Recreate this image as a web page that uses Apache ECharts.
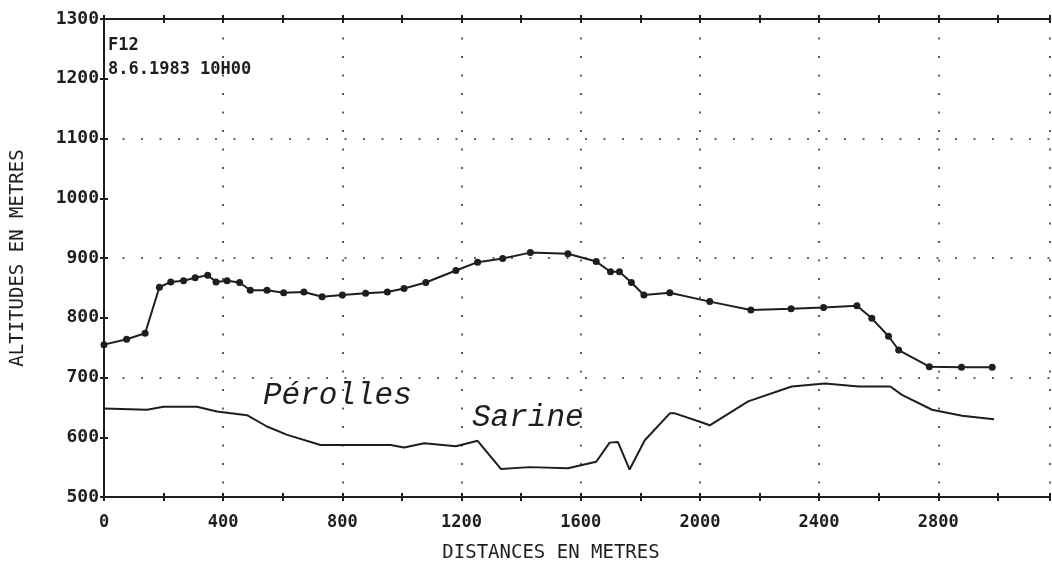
<!DOCTYPE html>
<html>
<head>
<meta charset="utf-8">
<script src="https://cdn.jsdelivr.net/npm/echarts@6/dist/echarts.min.js"></script>
<style>
    html, body { margin: 0; padding: 0; background: #ffffff; }
    #chart { width: 1052px; height: 569px; }
</style>
</head>
<body>
<div id="chart"></div>
<script>
// Profil Pérolles (points mesurés)
const perollesDist = [0, 76, 138, 186, 224, 267, 306, 348, 376, 413, 455, 491, 547, 603, 671, 732, 800,
    878, 951, 1007, 1080, 1181, 1254, 1338, 1431, 1557, 1652, 1700, 1730, 1770, 1812, 1899, 2033,
    2171, 2306, 2415, 2527, 2577, 2633, 2667, 2770, 2878, 2981];
const perollesAlt = [755, 764, 774, 851, 860, 862, 867, 871, 860, 862, 859, 846, 846, 842, 843, 835, 838,
    841, 843, 849, 859, 879, 893, 899, 909, 907, 894, 877, 877, 859, 838, 842, 827,
    813, 815, 817, 820, 799, 769, 746, 718, 717, 717];

// Profil de la Sarine
const sarineDist = [0, 144, 200, 312, 379, 480, 547, 615, 727, 861, 962, 1007, 1075, 1181, 1254, 1332,
    1428, 1557, 1652, 1697, 1725, 1764, 1815, 1899, 1916, 2000, 2033, 2162, 2308, 2420, 2533,
    2639, 2678, 2779, 2880, 2987];
const sarineAlt = [648, 646, 651, 651, 643, 637, 618, 604, 587, 587, 587, 583, 590, 585, 594, 547,
    550, 548, 559, 591, 592, 546, 595, 640, 640, 626, 620, 660, 685, 690, 685,
    685, 671, 646, 636, 630];

const X_MAX = 3175;
const plotterFont = 'DejaVu Sans Mono';
const ink = '#1e1e1e';

const chart = echarts.init(document.getElementById('chart'));

function zip(xs, ys) {
    return xs.map((x, i) => [x, ys[i]]);
}

// pas de séparateur de milliers, comme sur le traceur
function plain(value) {
    return String(value);
}

const dotted = { type: [2, 16.5], color: '#333', width: 1.6 };

const option = {
    animation: false,
    backgroundColor: '#ffffff',
    grid: { left: 104, right: 2, top: 19, bottom: 72 },
    xAxis: [
        {
            type: 'value', position: 'bottom', min: 0, max: X_MAX, interval: 400,
            axisLine: { show: true, lineStyle: { color: ink, width: 2 } },
            axisTick: { show: false },
            axisLabel: {
                margin: 17, color: ink, fontFamily: plotterFont, fontSize: 17, fontWeight: 'bold',
                showMaxLabel: false, formatter: plain
            },
            splitLine: { show: true, lineStyle: dotted },
            name: 'DISTANCES EN METRES',
            nameLocation: 'middle',
            nameGap: 47,
            nameTextStyle: { color: ink, fontFamily: plotterFont, fontSize: 19, padding: [0, 52, 0, 0] }
        },
        {
            type: 'value', position: 'bottom', min: 0, max: X_MAX, interval: 200, offset: -4,
            axisLine: { show: false },
            axisTick: { show: true, length: 8, lineStyle: { color: ink, width: 2 } },
            axisLabel: { show: false },
            splitLine: { show: false }
        },
        {
            type: 'value', position: 'top', min: 0, max: X_MAX, interval: 200,
            axisLine: { show: true, lineStyle: { color: ink, width: 2 } },
            axisTick: { show: false },
            axisLabel: { show: false },
            splitLine: { show: false }
        },
        {
            type: 'value', position: 'top', min: 0, max: X_MAX, interval: 200, offset: -4,
            axisLine: { show: false },
            axisTick: { show: true, length: 8, lineStyle: { color: ink, width: 2 } },
            axisLabel: { show: false },
            splitLine: { show: false }
        }
    ],
    yAxis: [
        {
            type: 'value', position: 'left', min: 500, max: 1300, interval: 100,
            axisLine: { show: true, lineStyle: { color: ink, width: 2 } },
            axisTick: { show: false },
            axisLabel: {
                margin: 5, color: ink, fontFamily: plotterFont, fontSize: 18, fontWeight: 'bold',
                formatter: plain
            },
            splitLine: { show: false },
            name: 'ALTITUDES EN METRES',
            nameLocation: 'middle',
            nameGap: 76,
            nameRotate: 90,
            nameTextStyle: { color: ink, fontFamily: plotterFont, fontSize: 19 }
        },
        {
            type: 'value', position: 'left', min: 500, max: 1300, interval: 200,
            axisLine: { show: false },
            axisTick: { show: false },
            axisLabel: { show: false },
            splitLine: { show: true, lineStyle: dotted }
        },
        {
            type: 'value', position: 'left', min: 500, max: 1300, interval: 100, offset: -4,
            axisLine: { show: false },
            axisTick: { show: true, length: 8, lineStyle: { color: ink, width: 2 } },
            axisLabel: { show: false },
            splitLine: { show: false }
        }
    ],
    series: [
        {
            name: 'Pérolles',
            type: 'line',
            data: zip(perollesDist, perollesAlt),
            symbol: 'circle',
            symbolSize: 7,
            itemStyle: { color: ink },
            lineStyle: { color: ink, width: 2 },
            z: 5
        },
        {
            name: 'Sarine',
            type: 'line',
            data: zip(sarineDist, sarineAlt),
            showSymbol: false,
            lineStyle: { color: ink, width: 2 },
            z: 5
        }
    ],
    graphic: [
        {
            type: 'text', left: 108, top: 37,
            style: { text: 'F12', fill: ink, font: 'bold 17px "DejaVu Sans Mono"' }
        },
        {
            type: 'text', left: 108, top: 61,
            style: { text: '8.6.1983 10H00', fill: ink, font: 'bold 17px "DejaVu Sans Mono"' }
        },
        {
            type: 'text', left: 263, top: 380,
            style: { text: 'Pérolles', fill: ink, font: 'italic 31px "Liberation Mono"' }
        },
        {
            type: 'text', left: 472, top: 402,
            style: { text: 'Sarine', fill: ink, font: 'italic 31px "Liberation Mono"' }
        }
    ]
};

chart.setOption(option);
</script>
</body>
</html>
